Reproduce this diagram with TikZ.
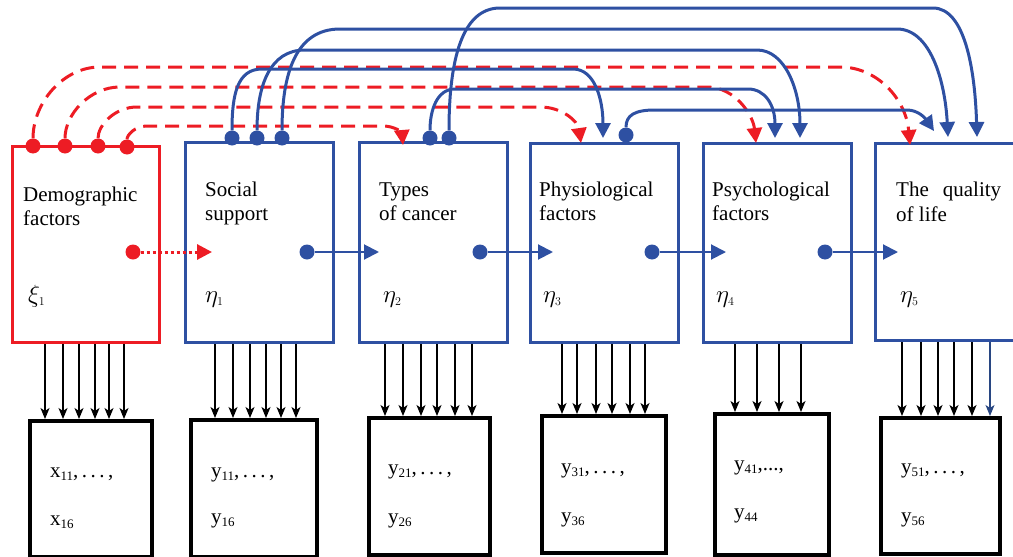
\documentclass[tikz,border=0pt]{standalone}
\usepackage{fontspec}
\setmainfont{Liberation Serif}
\usetikzlibrary{arrows.meta}
\definecolor{rd}{RGB}{237,28,36}
\definecolor{bl}{RGB}{46,80,162}
\definecolor{dbl}{RGB}{40,70,130}
\newcommand\sbx[1]{\raisebox{-3pt}{\fontsize{13}{13}\selectfont #1}}
\begin{document}
\begin{tikzpicture}[x=1pt,y=-1pt,
  latbox/.style={draw=bl,line width=3pt,anchor=north west,inner sep=0pt,minimum width=148pt},
  obsbox/.style={draw=black,line width=4pt,anchor=north west,inner sep=0pt},
  rdot/.style={circle,fill=rd,inner sep=0pt,minimum size=15pt},
  bdot/.style={circle,fill=bl,inner sep=0pt,minimum size=15pt},
  rdash/.style={draw=rd,line width=3pt,dash pattern=on 14pt off 8pt,-{Triangle[length=15pt,width=15pt]}},
  barc/.style={draw=bl,line width=3pt,-{Triangle[length=15pt,width=15pt]}},
  hblue/.style={draw=bl,line width=2pt,-{Triangle[length=15pt,width=15pt]}},
  hred/.style={draw=rd,line width=3pt,dash pattern=on 3pt off 3pt,-{Triangle[length=15pt,width=15pt]}},
  vblk/.style={draw=black,line width=1.7pt,-{Stealth[length=11pt,width=9pt,inset=3pt]}},
  lbl/.style={anchor=base west,inner sep=0pt,align=left,font=\fontsize{21}{24.5}\selectfont},
  glbl/.style={anchor=base west,inner sep=0pt,font=\fontsize{26}{28}\selectfont},
  olbl/.style={anchor=base west,inner sep=0pt,font=\fontsize{21}{24}\selectfont}]
\useasboundingbox (0,0) rectangle (1013,557);

% latent boxes
\node[latbox,draw=rd,minimum width=147pt,minimum height=196pt] (rb) at (11,145) {};
\node[latbox,minimum height=200pt] (b1) at (184,141) {};
\node[latbox,minimum height=200pt] (b2) at (358,141) {};
\node[latbox,minimum height=199pt] (b3) at (529,142) {};
\node[latbox,minimum height=199pt] (b4) at (702,142) {};
\node[latbox,minimum height=197pt] (b5) at (874,142) {};

% observed boxes
\node[obsbox,minimum width=122pt,minimum height=136pt] (o0) at (28,419) {};
\node[obsbox,minimum width=126pt,minimum height=137pt] (o1) at (189,418) {};
\node[obsbox,minimum width=121pt,minimum height=137pt] (o2) at (367,416) {};
\node[obsbox,minimum width=124pt,minimum height=137pt] (o3) at (540,414) {};
\node[obsbox,minimum width=114pt,minimum height=141pt] (o4) at (713,412) {};
\node[obsbox,minimum width=119pt,minimum height=136pt] (o5) at (879,416) {};

% texts (anchor = baseline of the last line)
\node[lbl] (t0) at (23,225.5) {Demographic\\factors};
\node[lbl] (t1) at (205,220.5) {Social\\support};
\node[lbl] (t2) at (379,220.5) {Types\\of cancer};
\node[lbl] (t3) at (539,220.5) {Physiological\\factors};
\node[lbl] (t4) at (712,220.5) {Psychological\\factors};
\node[lbl] (t5) at (896,221) {The\hspace{14pt}quality\\of life};

\node[glbl] (g0) at (28,302) {$\xi_{\scriptscriptstyle 1}$};
\node[glbl] (g1) at (205,302) {$\eta_{\scriptscriptstyle 1}$};
\node[glbl] (g2) at (383,302) {$\eta_{\scriptscriptstyle 2}$};
\node[glbl] (g3) at (543,302) {$\eta_{\scriptscriptstyle 3}$};
\node[glbl] (g4) at (716,302) {$\eta_{\scriptscriptstyle 4}$};
\node[glbl] (g5) at (900,302) {$\eta_{\scriptscriptstyle 5}$};

\node[olbl] (x0a) at (50,477) {x\sbx{11},\,.\,.\,.\,,};
\node[olbl] (x0b) at (50,525) {x\sbx{16}};
\node[olbl] (y1a) at (211,477) {y\sbx{11},\,.\,.\,.\,,};
\node[olbl] (y1b) at (211,523) {y\sbx{16}};
\node[olbl] (y2a) at (388,474) {y\sbx{21},\,.\,.\,.\,,};
\node[olbl] (y2b) at (388,523) {y\sbx{26}};
\node[olbl] (y3a) at (561,473) {y\sbx{31},\,.\,.\,.\,,};
\node[olbl] (y3b) at (561,522) {y\sbx{36}};
\node[olbl] (y4a) at (734,470) {y\sbx{41},...,};
\node[olbl] (y4b) at (734,518) {y\sbx{44}};
\node[olbl] (y5a) at (901,473) {y\sbx{51},\,.\,.\,.\,,};
\node[olbl] (y5b) at (901,522) {y\sbx{56}};

% vertical arrows
\foreach \x in {45,63,79,95,109,124} \draw[vblk] (\x,0 |- rb.south) -- (\x,0 |- o0.north);
\foreach \x in {215,233,250,266,281,296} \draw[vblk] (\x,0 |- b1.south) -- (\x,0 |- o1.north);
\foreach \x in {385,403,421,437,455,472} \draw[vblk] (\x,0 |- b2.south) -- (\x,0 |- o2.north);
\foreach \x in {562,577,596,612,630,645} \draw[vblk] (\x,0 |- b3.south) -- (\x,0 |- o3.north);
\foreach \x in {735,757,779,801} \draw[vblk] (\x,0 |- b4.south) -- (\x,0 |- o4.north);
\foreach \x in {902,921,938,954,972} \draw[vblk] (\x,0 |- b5.south) -- (\x,0 |- o5.north);
\draw[vblk,draw=dbl,line width=1.2pt] (990,0 |- b5.south) -- (990,0 |- o5.north);

% dots
\node[rdot] (rd1) at (33,146) {};
\node[rdot] (rd2) at (65,146) {};
\node[rdot] (rd3) at (98,146) {};
\node[rdot] (rd4) at (127,147) {};
\node[bdot] (bd1) at (232,138) {};
\node[bdot] (bd2) at (257,138) {};
\node[bdot] (bd3) at (282,138) {};
\node[bdot] (bd4) at (430,138) {};
\node[bdot] (bd5) at (449,138) {};
\node[bdot] (bd6) at (626,135) {};
\node[rdot] (rm) at (133,252) {};
\node[bdot] (m1) at (307,252) {};
\node[bdot] (m2) at (480,252) {};
\node[bdot] (m3) at (652,252) {};
\node[bdot] (m4) at (825,252) {};

% arrow targets
\coordinate (h0) at (212,252);
\coordinate (h1) at (379,252);
\coordinate (h2) at (553,252);
\coordinate (h3) at (726,252);
\coordinate (h4) at (898,252);
\coordinate (r5) at (910,145);
\coordinate (r4) at (756,143);
\coordinate (r3) at (581,143);
\coordinate (r2) at (403,145);
\coordinate (a3) at (603,138);
\coordinate (a4a) at (775,138);
\coordinate (a4b) at (800,138);
\coordinate (a5a) at (934,131);
\coordinate (a5b) at (948,137);
\coordinate (a5c) at (977,137);

% horizontal arrows
\draw[hred] (rm) -- (h0);
\draw[hblue] (m1) -- (h1);
\draw[hblue] (m2) -- (h2);
\draw[hblue] (m3) -- (h3);
\draw[hblue] (m4) -- (h4);

% red dashed arcs
\draw[rdash] (rd1) .. controls (33,103) and (63,67) .. (100,67) -- (840,67) .. controls (878,67) and (906,100) .. (r5);
\draw[rdash] (rd2) .. controls (65,114) and (90,87) .. (120,87) -- (707,87) .. controls (735,87) and (753,115) .. (r4);
\draw[rdash] (rd3) .. controls (98,125) and (115,107) .. (137,107) -- (540,107) .. controls (563,107) and (578,122) .. (r3);
\draw[rdash] (rd4) .. controls (127,135) and (135,126) .. (147,126) -- (383,126) .. controls (395,126) and (402,133) .. (r2);

% blue arcs
\draw[barc] (bd1) .. controls (232,95) and (237,69) .. (262,69) -- (573,69) .. controls (595,69) and (603,100) .. (a3);
\draw[barc] (bd2) .. controls (257,85) and (270,50) .. (305,50) -- (757,50) .. controls (785,50) and (800,90) .. (a4b);
\draw[barc] (bd3) .. controls (282,75) and (295,29) .. (340,29) -- (897,29) .. controls (930,29) and (945,80) .. (a5b);
\draw[barc] (bd4) .. controls (430,110) and (437,89) .. (455,89) -- (748,89) .. controls (765,89) and (775,105) .. (a4a);
\draw[barc] (bd5) .. controls (449,60) and (462,8) .. (500,8) -- (933,8) .. controls (965,8) and (975,70) .. (a5c);
\draw[barc] (bd6) .. controls (626,115) and (635,110) .. (655,110) -- (907,110) .. controls (918,110) and (925,118) .. (a5a);
\end{tikzpicture}
\end{document}
